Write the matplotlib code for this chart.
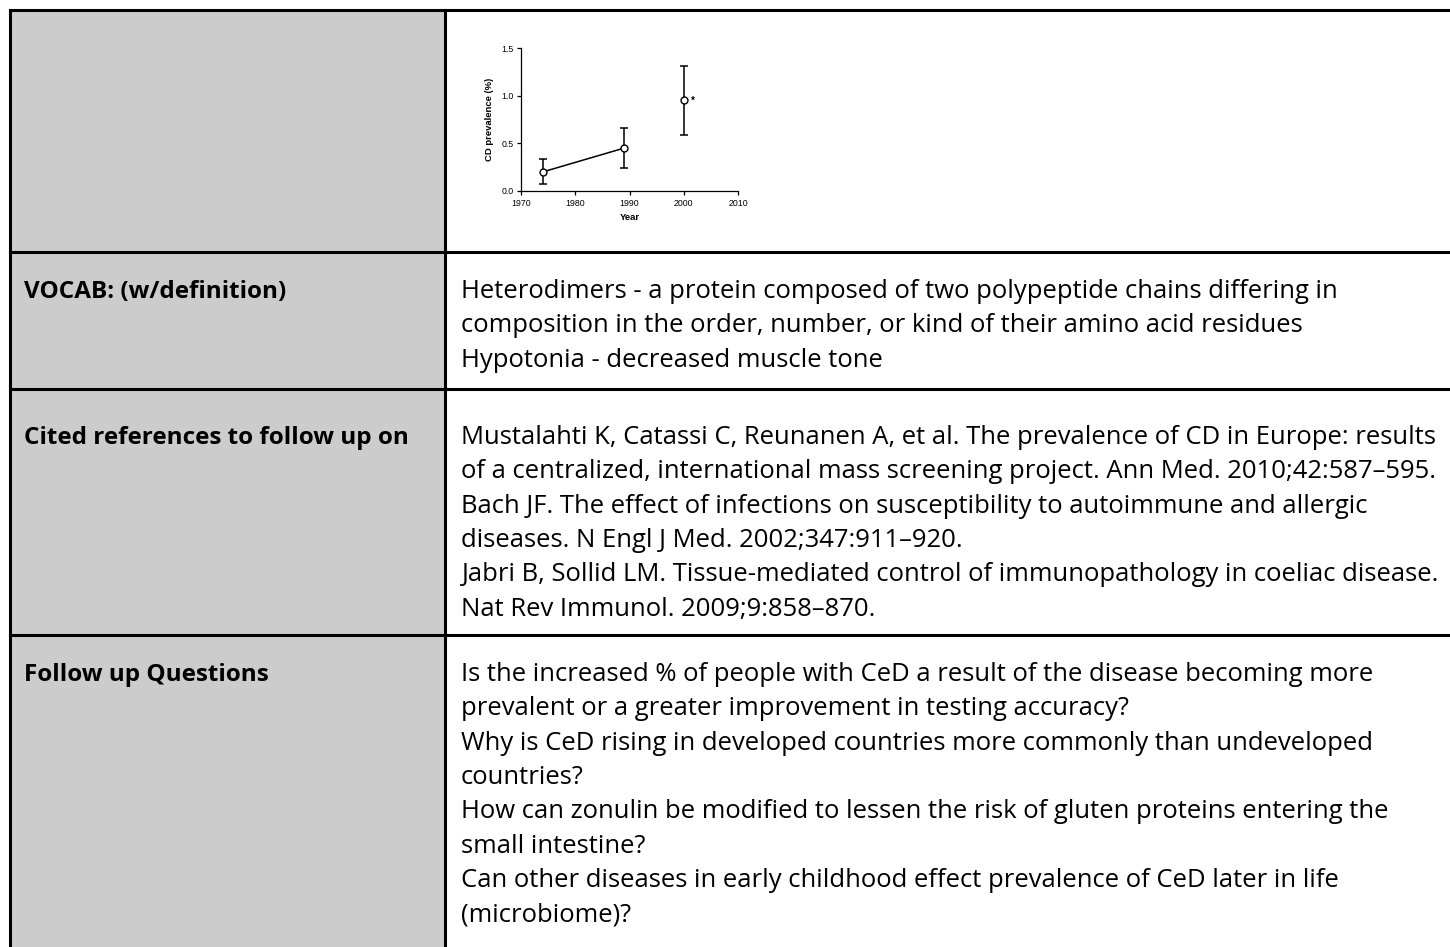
import matplotlib.pyplot as plt
from matplotlib.patches import Rectangle

# inset chart data
years = [1974, 1989, 2000]
prevalence = [0.20, 0.45, 0.95]
err_low = [0.07, 0.24, 0.59]
err_high = [0.34, 0.66, 1.31]
x_ticks = [1970, 1980, 1990, 2000, 2010]
y_ticks = [0.0, 0.5, 1.0, 1.5]

# table text
row_labels = ["VOCAB: (w/definition)", "Cited references to follow up on", "Follow up Questions"]
vocab_lines = [
    "Heterodimers - a protein composed of two polypeptide chains differing in",
    "composition in the order, number, or kind of their amino acid residues",
    "Hypotonia - decreased muscle tone",
]
ref_lines = [
    "Mustalahti K, Catassi C, Reunanen A, et al. The prevalence of CD in Europe: results",
    "of a centralized, international mass screening project. Ann Med. 2010;42:587\u2013595.",
    "Bach JF. The effect of infections on susceptibility to autoimmune and allergic",
    "diseases. N Engl J Med. 2002;347:911\u2013920.",
    "Jabri B, Sollid LM. Tissue-mediated control of immunopathology in coeliac disease.",
    "Nat Rev Immunol. 2009;9:858\u2013870.",
]
question_lines = [
    "Is the increased % of people with CeD a result of the disease becoming more",
    "prevalent or a greater improvement in testing accuracy?",
    "Why is CeD rising in developed countries more commonly than undeveloped",
    "countries?",
    "How can zonulin be modified to lessen the risk of gluten proteins entering the",
    "small intestine?",
    "Can other diseases in early childhood effect prevalence of CeD later in life",
    "(microbiome)?",
]

W, H = 1450, 947
fig = plt.figure(figsize=(W / 100, H / 100), dpi=100)

# page / table layer in pixel coordinates
bg = fig.add_axes([0, 0, 1, 1])
bg.set_xlim(0, W)
bg.set_ylim(H, 0)
bg.axis("off")

left, mid, right, top = 10, 445, W + 5, 10
row_lines = [252, 389, 635]
bg.add_patch(Rectangle((left, top), mid - left, H - top + 5, color="#cccccc", zorder=0))
lw = 2.2
bg.plot([left, right], [top, top], color="black", lw=lw)
for y in row_lines:
    bg.plot([left, right], [y, y], color="black", lw=lw)
for x in [left, mid]:
    bg.plot([x, x], [top, H + 5], color="black", lw=lw)

font = "Open Sans"
renderer = fig.canvas.get_renderer()


def fit_size(s, width, weight="normal", base=16):
    t = bg.text(0, 0, s, fontsize=base, family=font, fontweight=weight)
    w = t.get_window_extent(renderer).width
    t.remove()
    return base * width / w


fs = fit_size(ref_lines[0], 973)
fs_b = fit_size(row_labels[1], 387, "bold")

step = 34.3
row_first = [298, 444, 681]
blocks = [vocab_lines, ref_lines, question_lines]
for lab, y0, lines in zip(row_labels, row_first, blocks):
    bg.text(24, y0, lab, fontsize=fs_b, fontweight="bold", family=font, va="baseline")
    for i, line in enumerate(lines):
        bg.text(461, y0 + i * step, line, fontsize=fs, family=font, va="baseline")

# inset chart
ax = fig.add_axes([521 / W, 1 - 191 / H, 217 / W, 143 / H])
lo = [p - l for p, l in zip(prevalence, err_low)]
hi = [h - p for p, h in zip(prevalence, err_high)]
ax.errorbar(years, prevalence, yerr=[lo, hi], fmt="none", ecolor="black",
            elinewidth=1.1, capsize=2.6, capthick=1.1, zorder=2)
ax.plot(years[:2], prevalence[:2], color="black", lw=1.1, zorder=3)
ax.plot(years, prevalence, "o", mfc="white", mec="black", mew=1.0, ms=5, zorder=4)
ax.annotate("*", (years[2], prevalence[2]), xytext=(5, 0), textcoords="offset points",
            fontsize=7, fontweight="bold", va="center", family="Liberation Sans")

ax.set_xlim(1970, 2010)
ax.set_ylim(0, 1.5)
ax.set_xticks(x_ticks)
ax.set_yticks(y_ticks)
ax.set_yticklabels([f"{v:.1f}" for v in y_ticks])
ax.spines[["top", "right"]].set_visible(False)
for s in ["left", "bottom"]:
    ax.spines[s].set_linewidth(0.9)
ax.tick_params(labelsize=6.3, length=3, width=0.9, pad=2.5)
for lab in ax.get_xticklabels() + ax.get_yticklabels():
    lab.set_family("Liberation Sans")
ax.set_xlabel("Year", fontsize=6.8, fontweight="bold", family="Liberation Sans", labelpad=4)
ax.set_ylabel("CD prevalence (%)", fontsize=6.8, fontweight="bold", family="Liberation Sans", labelpad=5)
ax.patch.set_alpha(0)

fig.savefig("out.png", dpi=100)
